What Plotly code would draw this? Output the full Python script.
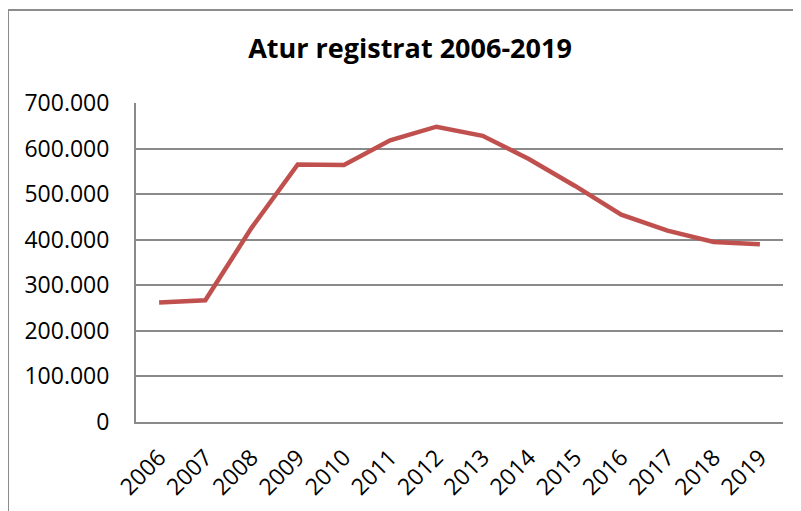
import plotly.graph_objects as go

years = ["2006", "2007", "2008", "2009", "2010", "2011", "2012",
         "2013", "2014", "2015", "2016", "2017", "2018", "2019"]
atur = [262500, 267000, 426000, 565000, 564000, 618000, 648000,
        628000, 577000, 518000, 455000, 420000, 395000, 390000]
y_ticks = [0, 100000, 200000, 300000, 400000, 500000, 600000, 700000]

FONT = "Open Sans"
GRID = "#8a8a8a"

# page has an 8px body margin, so figure pixels are shifted by 8
L, T, R, B = 128, 95, 775, 414

fig = go.Figure()
fig.add_trace(go.Scatter(
    x=years, y=atur, mode="lines",
    line=dict(color="#C0504D", width=4.5),
    hoverinfo="x+y",
))

fig.update_layout(
    width=801, height=511,
    margin=dict(l=L, r=801 - R, t=T, b=511 - B),
    paper_bgcolor="white", plot_bgcolor="white",
    separators=",.",
    showlegend=False,
    title=dict(
        text="<b>Atur registrat 2006-2019</b>",
        font=dict(family=FONT, size=27, color="#000000"),
        x=402 / 801, xref="container", xanchor="center",
        y=1 - 41 / 511, yref="container", yanchor="middle",
    ),
    xaxis=dict(
        type="category",
        range=[-0.5, len(years) - 0.5],
        tickangle=-45,
        tickfont=dict(family=FONT, size=23, color="#000000"),
        showgrid=False,
        showline=True, linecolor=GRID, linewidth=2,
        ticks="", ticklabelstandoff=11,
        zeroline=False,
    ),
    yaxis=dict(
        range=[0, 700000],
        tickvals=y_ticks,
        tickformat=",d",
        tickfont=dict(family=FONT, size=23, color="#000000"),
        showgrid=True, gridcolor=GRID, gridwidth=1.5,
        showline=True, linecolor=GRID, linewidth=2,
        ticks="", ticklabelstandoff=20,
        zeroline=False,
    ),
    shapes=[dict(
        type="rect", xref="paper", yref="paper",
        x0=(0 - L) / (R - L), x1=(810 - L) / (R - L),
        y0=(B - 520) / (B - T), y1=(B - 2) / (B - T),
        line=dict(color="#8c8c8c", width=2),
        fillcolor="rgba(0,0,0,0)", layer="below",
    )],
)

fig.write_html("out.html")
